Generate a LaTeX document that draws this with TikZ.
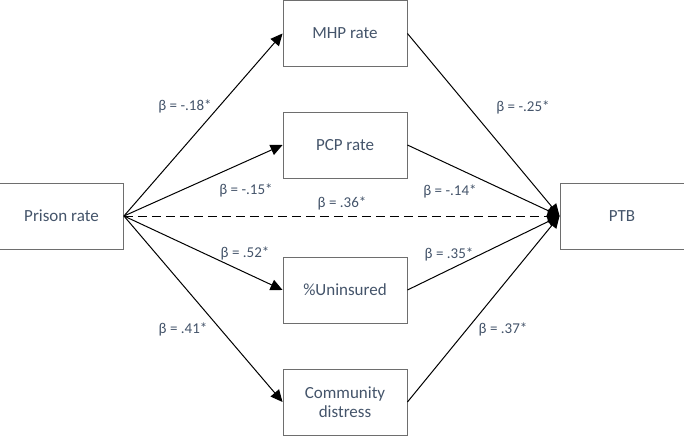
\documentclass[tikz,border=0pt]{standalone}
\usepackage{fontspec}
\setmainfont{Carlito}
\usetikzlibrary{arrows.meta}
\definecolor{txt}{HTML}{44546A}
\definecolor{boxline}{HTML}{6E6E6E}
\begin{document}
\begin{tikzpicture}[x=1pt,y=-1pt,
  varbox/.style={draw=boxline,line width=0.9pt,minimum width=124pt,minimum height=66pt,inner sep=0pt,align=center,text=txt,font=\fontsize{17}{20}\selectfont},
  path/.style={line width=1pt,-{Triangle[length=12pt,width=11pt]}},
  beta/.style={text=txt,font=\fontsize{15}{18}\selectfont,inner sep=1pt}]
\useasboundingbox (0,0) rectangle (684,436);
\node[varbox] (prison) at (61.5,216) {Prison rate};
\node[varbox] (mhp) at (345,33.5) {MHP rate};
\node[varbox] (pcp) at (345,145) {PCP rate};
\node[varbox] (unins) at (345,290) {\%Uninsured};
\node[varbox] (comm) at (345,402) {Community\\[-1pt]distress};
\node[varbox] (ptb) at (622,216) {PTB};
\draw[path] (prison.east) -- (mhp.west);
\draw[path] (prison.east) -- (pcp.west);
\draw[path] (prison.east) -- (unins.west);
\draw[path] (prison.east) -- (comm.west);
\draw[path,dash pattern=on 9pt off 5pt] (prison.east) -- (ptb.west);
\draw[path] (mhp.east) -- (ptb.west);
\draw[path] (pcp.east) -- (ptb.west);
\draw[path] (unins.east) -- (ptb.west);
\draw[path] (comm.east) -- (ptb.west);
\node[beta] (b1) at (185,106) {β = -.18*};
\node[beta] (b2) at (246,190) {β = -.15*};
\node[beta] (b3) at (342,203) {β = .36*};
\node[beta] (b4) at (245,253) {β = .52*};
\node[beta] (b5) at (183,329) {β = .41*};
\node[beta] (b6) at (523,107) {β = -.25*};
\node[beta] (b7) at (450,191) {β = -.14*};
\node[beta] (b8) at (449,254) {β = .35*};
\node[beta] (b9) at (503,329) {β = .37*};
\end{tikzpicture}
\end{document}
